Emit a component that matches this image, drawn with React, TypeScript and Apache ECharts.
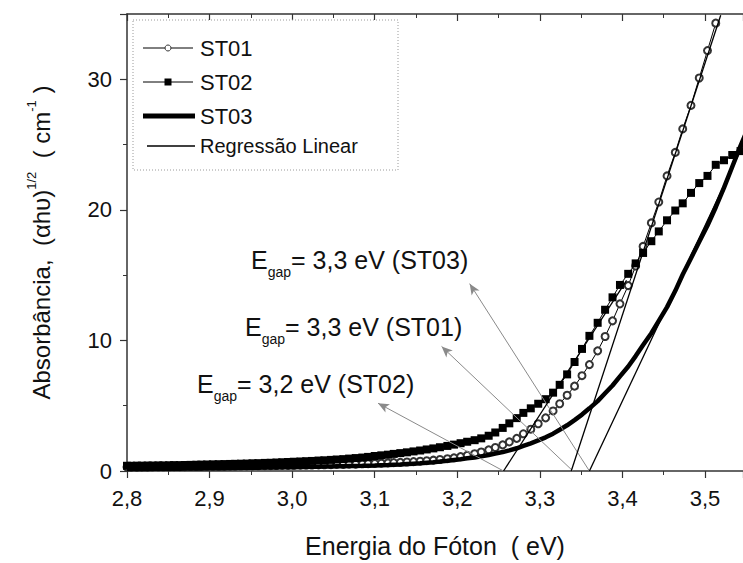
import React, { useEffect, useRef } from 'react';
import * as echarts from 'echarts';

const FONT = 'Liberation Sans, Arial, Helvetica, sans-serif';
const INK = '#111';

// photon energy (eV) of each sample
const ENERGY = [
  2.800, 2.805, 2.812, 2.818, 2.825, 2.831, 2.838, 2.844, 2.851, 2.857,
  2.864, 2.870, 2.877, 2.884, 2.890, 2.897, 2.904, 2.911, 2.918, 2.925,
  2.931, 2.938, 2.945, 2.952, 2.959, 2.967, 2.974, 2.981, 2.988, 2.995,
  3.002, 3.010, 3.017, 3.024, 3.032, 3.039, 3.047, 3.054, 3.062, 3.069,
  3.077, 3.085, 3.092, 3.100, 3.108, 3.116, 3.123, 3.131, 3.139, 3.147,
  3.155, 3.163, 3.171, 3.179, 3.188, 3.196, 3.204, 3.212, 3.221, 3.229,
  3.238, 3.246, 3.255, 3.263, 3.272, 3.280, 3.289, 3.298, 3.307, 3.316,
  3.324, 3.333, 3.342, 3.351, 3.360, 3.370, 3.379, 3.388, 3.397, 3.407,
  3.416, 3.425, 3.435, 3.444, 3.454, 3.464, 3.473, 3.483, 3.493, 3.503,
  3.513, 3.523, 3.533, 3.543, 3.553,
];

const ST01 = [
  0.30, 0.30, 0.30, 0.31, 0.31, 0.31, 0.32, 0.32, 0.32, 0.33,
  0.33, 0.33, 0.34, 0.34, 0.35, 0.35, 0.36, 0.36, 0.37, 0.37,
  0.38, 0.38, 0.39, 0.39, 0.40, 0.41, 0.41, 0.42, 0.43, 0.43,
  0.44, 0.45, 0.46, 0.46, 0.47, 0.48, 0.49, 0.50, 0.51, 0.52,
  0.53, 0.55, 0.56, 0.58, 0.60, 0.62, 0.64, 0.66, 0.69, 0.72,
  0.75, 0.79, 0.83, 0.88, 0.94, 1.01, 1.10, 1.20, 1.32, 1.46,
  1.62, 1.80, 2.00, 2.23, 2.50, 2.85, 3.20, 3.62, 4.07, 4.60,
  5.15, 5.80, 6.50, 7.30, 8.15, 9.20, 10.30, 11.50, 12.80, 14.20,
  15.70, 17.20, 19.00, 20.60, 22.60, 24.40, 26.20, 28.00, 30.10, 32.20,
  34.30,
];

const ST02 = [
  0.40, 0.40, 0.41, 0.41, 0.42, 0.42, 0.43, 0.43, 0.44, 0.45,
  0.45, 0.46, 0.47, 0.48, 0.49, 0.50, 0.51, 0.52, 0.53, 0.54,
  0.55, 0.56, 0.57, 0.59, 0.60, 0.62, 0.63, 0.65, 0.67, 0.69,
  0.71, 0.73, 0.75, 0.77, 0.80, 0.82, 0.85, 0.88, 0.91, 0.95,
  0.99, 1.03, 1.08, 1.15, 1.20, 1.25, 1.31, 1.37, 1.43, 1.50,
  1.57, 1.65, 1.73, 1.82, 1.92, 2.02, 2.13, 2.24, 2.36, 2.50,
  2.70, 2.95, 3.30, 3.65, 4.05, 4.45, 4.80, 5.15, 5.50, 6.00,
  6.60, 7.40, 8.35, 9.35, 10.35, 11.35, 12.35, 13.30, 14.25, 15.10,
  15.90, 16.70, 17.60, 18.35, 19.20, 19.95, 20.50, 21.30, 22.05, 22.60,
  23.45, 23.80, 24.20, 24.50,
];

const ST03 = [
  0.15, 0.15, 0.16, 0.16, 0.16, 0.17, 0.17, 0.17, 0.18, 0.18,
  0.18, 0.19, 0.19, 0.20, 0.20, 0.21, 0.21, 0.22, 0.22, 0.23,
  0.23, 0.24, 0.24, 0.25, 0.25, 0.26, 0.27, 0.27, 0.28, 0.29,
  0.29, 0.30, 0.31, 0.32, 0.33, 0.34, 0.35, 0.36, 0.37, 0.38,
  0.39, 0.40, 0.41, 0.42, 0.44, 0.46, 0.48, 0.50, 0.53, 0.56,
  0.59, 0.63, 0.67, 0.72, 0.78, 0.84, 0.90, 0.97, 1.04, 1.12,
  1.22, 1.33, 1.45, 1.58, 1.74, 1.92, 2.12, 2.34, 2.58, 2.86,
  3.16, 3.50, 3.90, 4.32, 4.80, 5.35, 5.95, 6.55, 7.25, 8.00,
  8.80, 9.65, 10.55, 11.50, 12.55, 13.80, 15.05, 16.30, 17.55, 18.80,
  20.20, 21.70, 23.30, 24.90, 26.40,
];

// linear regression segments [start, end]
const FIT_ST01 = [[3.338, 0], [3.519, 34.9]];
const FIT_ST02 = [[3.256, 0], [3.405, 14.6]];
const FIT_ST03 = [[3.36, 0], [3.553, 25.9]];

// arrows from the intercept to the label
const ARROW_FROM = [[3.256, 0], [3.34, 0], [3.36, 0]];
const ARROW_TO = [[3.104, 5.19], [3.181, 9.54], [3.215, 14.35]];
const GAP_LABELS = ['= 3,2 eV (ST02)', '= 3,3 eV (ST01)', '= 3,3 eV (ST03)'];

const X_MIN = 2.8;
const X_MAX = 3.546;
const X_STEP = 0.1;
const Y_MIN = 0;
const Y_MAX = 35;
const Y_STEP = 10;

const pairs = (ys: number[]) => ys.map((y, i) => [ENERGY[i], y]);

const fmtX = (v: number) => {
  if (Math.abs(v * 10 - Math.round(v * 10)) > 0.001) return '';
  return v.toFixed(1).replace('.', ',');
};

export default function App() {
  const ref = useRef<HTMLDivElement>(null);

  useEffect(() => {
    if (!ref.current) return;
    const chart = echarts.init(ref.current, null, { renderer: 'svg' });

    const axisCommon = {
      type: 'value' as const,
      min: X_MIN,
      max: X_MAX,
      interval: X_STEP,
      splitLine: { show: false },
      axisLine: { show: true, onZero: false, lineStyle: { color: '#333', width: 1.5 } },
      minorTick: { show: true, splitNumber: 2, length: 4, lineStyle: { color: '#333', width: 1 } },
      minorSplitLine: { show: false },
    };

    const labelPos = [
      { x: 197, y: 384 },
      { x: 245, y: 327 },
      { x: 251, y: 260 },
    ];

    const richE = {
      e: { fontSize: 25, lineHeight: 38, fontFamily: FONT, fill: INK, color: INK },
      g: { fontSize: 14, lineHeight: 16, verticalAlign: 'bottom', fontFamily: FONT, fill: INK, color: INK },
    };

    const legendX = 143;
    const legendRows = [48, 82, 116, 146];

    chart.setOption({
      animation: false,
      backgroundColor: '#fff',
      grid: { left: 127, top: 14, right: 0, bottom: 90, containLabel: false },
      xAxis: [
        {
          ...axisCommon,
          position: 'bottom',
          name: 'Energia do Fóton  ( eV)',
          nameLocation: 'middle',
          nameGap: 62,
          nameTextStyle: { fontSize: 25, fontFamily: FONT, color: INK },
          axisTick: { show: true, inside: false, length: 7, lineStyle: { color: '#333', width: 1.2 } },
          axisLabel: {
            show: true,
            margin: 16,
            fontSize: 22,
            fontFamily: FONT,
            color: INK,
            showMaxLabel: false,
            formatter: fmtX,
          },
        },
        {
          ...axisCommon,
          position: 'top',
          axisTick: { show: true, inside: true, length: 7, lineStyle: { color: '#333', width: 1.2 } },
          minorTick: { show: true, splitNumber: 2, length: 4, lineStyle: { color: '#333', width: 1 } },
          axisLabel: { show: false },
        },
      ],
      yAxis: {
        type: 'value',
        min: Y_MIN,
        max: Y_MAX,
        interval: Y_STEP,
        splitLine: { show: false },
        axisLine: { show: true, lineStyle: { color: '#333', width: 1.5 } },
        axisTick: { show: true, inside: false, length: 7, lineStyle: { color: '#333', width: 1.2 } },
        minorTick: { show: true, splitNumber: 2, length: 4, lineStyle: { color: '#333', width: 1 } },
        axisLabel: { margin: 15, fontSize: 22, fontFamily: FONT, color: INK, showMaxLabel: false },
        name: '{m|Absorbância,  (αhυ)}{s|1/2}{m|  ( cm}{s|-1}{m| )}',
        nameLocation: 'middle',
        nameGap: 70,
        nameTextStyle: {
          fontFamily: FONT,
          color: INK,
          rich: {
            m: { fontSize: 24, lineHeight: 32, fontFamily: FONT, color: INK },
            s: { fontSize: 13, lineHeight: 14, verticalAlign: 'top', fontFamily: FONT, color: INK },
          },
        },
      },
      series: [
        {
          name: 'ST01',
          type: 'line',
          data: pairs(ST01),
          symbol: 'emptyCircle',
          symbolSize: 7,
          showAllSymbol: true,
          lineStyle: { color: '#000', width: 1 },
          itemStyle: { color: '#333', borderColor: '#333', borderWidth: 1 },
          silent: true,
          z: 2,
        },
        {
          name: 'ST02',
          type: 'line',
          data: pairs(ST02),
          symbol: 'rect',
          symbolSize: 8,
          showAllSymbol: true,
          lineStyle: { color: '#000', width: 1 },
          itemStyle: { color: '#000' },
          silent: true,
          z: 3,
        },
        {
          name: 'ST03',
          type: 'line',
          data: pairs(ST03),
          symbol: 'none',
          lineStyle: { color: '#000', width: 4.5 },
          silent: true,
          z: 4,
        },
        ...[FIT_ST01, FIT_ST02, FIT_ST03].map((seg) => ({
          name: 'Regressão Linear',
          type: 'line',
          data: seg,
          symbol: 'none',
          lineStyle: { color: '#000', width: 1.3 },
          silent: true,
          z: 5,
        })),
        {
          name: 'arrows',
          type: 'line',
          data: [],
          silent: true,
          z: 6,
          markLine: {
            silent: true,
            animation: false,
            symbol: ['none', 'arrow'],
            symbolSize: [7, 11],
            label: { show: false },
            lineStyle: { color: '#8a8a8a', width: 1, type: 'solid' },
            emphasis: { disabled: true },
            data: ARROW_FROM.map((from, i) => [{ coord: from }, { coord: ARROW_TO[i] }]),
          },
        },
      ],
      graphic: [
        // legend box
        {
          type: 'rect',
          shape: { x: 133, y: 20, width: 265, height: 150 },
          style: { fill: '#fff', stroke: '#9a9a9a', lineWidth: 1, lineDash: [1, 2] },
          z: 100,
        },
        { type: 'line', shape: { x1: legendX, y1: legendRows[0], x2: legendX + 50, y2: legendRows[0] }, style: { stroke: '#000', lineWidth: 1 }, z: 101 },
        { type: 'circle', shape: { cx: legendX + 25, cy: legendRows[0], r: 3 }, style: { fill: '#fff', stroke: '#333', lineWidth: 1 }, z: 102 },
        { type: 'line', shape: { x1: legendX, y1: legendRows[1], x2: legendX + 50, y2: legendRows[1] }, style: { stroke: '#000', lineWidth: 1 }, z: 101 },
        { type: 'rect', shape: { x: legendX + 21.5, y: legendRows[1] - 3.5, width: 7, height: 7 }, style: { fill: '#000' }, z: 102 },
        { type: 'line', shape: { x1: legendX, y1: legendRows[2], x2: legendX + 52, y2: legendRows[2] }, style: { stroke: '#000', lineWidth: 5 }, z: 101 },
        { type: 'line', shape: { x1: legendX + 4, y1: legendRows[3], x2: legendX + 52, y2: legendRows[3] }, style: { stroke: '#000', lineWidth: 1.5 }, z: 101 },
        ...['ST01', 'ST02', 'ST03', 'Regressão Linear'].map((t, i) => ({
          type: 'text',
          z: 103,
          style: {
            x: 200,
            y: legendRows[i],
            text: t,
            fontSize: i === 3 ? 20 : 22,
            fontFamily: FONT,
            fill: INK,
            verticalAlign: 'middle',
            align: 'left',
          },
        })),
        // band-gap labels
        ...GAP_LABELS.map((t, i) => ({
          type: 'text',
          z: 110,
          style: {
            x: labelPos[i].x,
            y: labelPos[i].y,
            text: `{e|E}{g|gap}{e|${t}}`,
            rich: richE,
            fontFamily: FONT,
            fill: INK,
            verticalAlign: 'middle',
            align: 'left',
          },
        })),
      ],
    });

    return () => chart.dispose();
  }, []);

  return (
    <div
      ref={ref}
      style={{ position: 'fixed', left: 0, top: 0, width: 743, height: 563, background: '#fff' }}
    />
  );
}
